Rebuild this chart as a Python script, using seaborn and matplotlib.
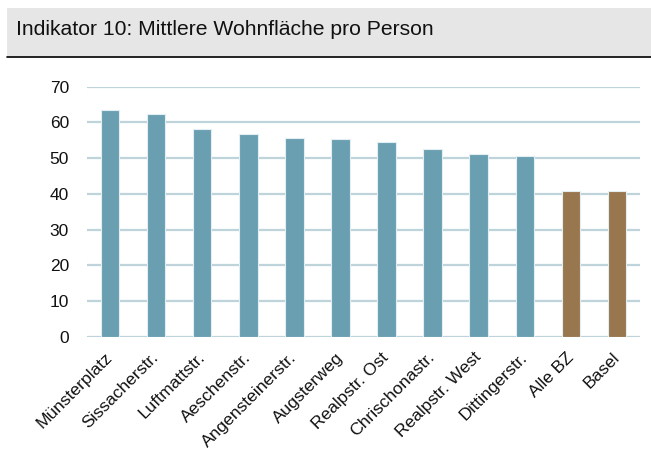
import matplotlib
matplotlib.use("Agg")
import matplotlib.pyplot as plt
import pandas as pd
import seaborn as sns
from matplotlib.patches import Rectangle
from matplotlib.lines import Line2D

# Mittlere Wohnfläche pro Person (m2)
areas = ["Münsterplatz", "Sissacherstr.", "Luftmattstr.", "Aeschenstr.",
         "Angensteinerstr.", "Augsterweg", "Realpstr. Ost", "Chrischonastr.",
         "Realpstr. West", "Dittingerstr.", "Alle BZ", "Basel"]
values = [63.3, 62.4, 58.2, 56.6, 55.6, 55.3, 54.6, 52.6, 51.1, 50.6, 40.8, 40.8]
group = ["Quartier"] * 10 + ["Referenz"] * 2

TEAL = "#6a9fb2"
BROWN = "#99774e"
GRID = "#bfd3db"

sns.set_theme(style="white")
plt.rcParams["font.family"] = ["Liberation Sans", "DejaVu Sans"]

df = pd.DataFrame({"area": areas, "value": values, "group": group})

fig = plt.figure(figsize=(6.51, 4.55), dpi=100)

# title band
fig.patches.append(Rectangle((7 / 651, 1 - 57 / 455), 644 / 651, 49 / 455,
                             transform=fig.transFigure, facecolor="#e6e6e6",
                             edgecolor="none", zorder=0))
fig.lines.append(Line2D([7 / 651, 1], [1 - 57 / 455] * 2, transform=fig.transFigure,
                        color="black", lw=1.2))
fig.text(16 / 651, 1 - 35 / 455, "Indikator 10: Mittlere Wohnfläche pro Person",
         fontsize=15.2, va="baseline", ha="left", color="#111111")

ax = fig.add_axes([87 / 651, 1 - 337 / 455, 553 / 651, 250.5 / 455])
sns.barplot(data=df, x="area", y="value", hue="group",
            palette={"Quartier": TEAL, "Referenz": BROWN}, saturation=1,
            width=0.4, dodge=False, legend=False, ax=ax,
            edgecolor="#e3eef2", linewidth=0.8, zorder=3)

ax.set_ylim(0, 70)
ax.set_xlim(-0.5, len(areas) - 0.5)
ax.set_yticks(range(0, 71, 10))
ax.yaxis.grid(True, color=GRID, lw=1.6, zorder=0)
ax.set_axisbelow(True)
for s in ax.spines.values():
    s.set_visible(False)
ax.set_xlabel("")
ax.set_ylabel("")
ax.tick_params(axis="y", labelsize=12.5, pad=13, length=0, colors="#111111")
ax.tick_params(axis="x", labelsize=12.6, length=0, pad=13, colors="#111111")
plt.setp(ax.get_xticklabels(), rotation=45, ha="right", va="center",
         rotation_mode="anchor")

fig.savefig("out.png", dpi=100)
